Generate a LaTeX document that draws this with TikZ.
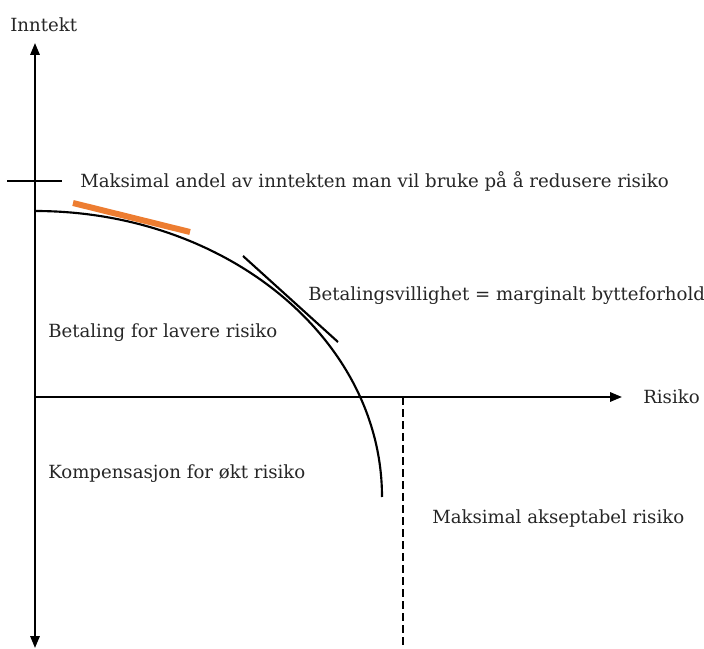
\documentclass[tikz,border=0pt]{standalone}
\usepackage{fontspec}
\setmainfont{DejaVu Serif}
\usetikzlibrary{arrows.meta}
\definecolor{orangeline}{HTML}{ED7D31}
\tikzset{
  lbl/.style={anchor=west, inner sep=0pt, font=\fontsize{13.6}{15}\selectfont, text=black!85},
  axis/.style={line width=1.6pt, -{Triangle[length=9pt,width=7pt]}},
  curve/.style={line width=1.6pt},
}
\begin{document}
\begin{tikzpicture}[x=0.75pt,y=-0.75pt]
\useasboundingbox (0,0) rectangle (704,649);
% axes
\coordinate (O) at (35,397);
\coordinate (ytop) at (35,43);
\coordinate (ybot) at (35,648);
\coordinate (xr) at (622,397);
\draw[axis] (O) -- (ytop);
\draw[axis] (O) -- (ybot);
\draw[axis] (O) -- (xr);
\node[lbl] (inntekt) at (10,25) {Inntekt};
\node[lbl] (risiko) at (643,397) {Risiko};
% tick
\coordinate (t1) at (7,181);
\coordinate (t2) at (62,181);
\draw[line width=1.6pt] (t1) -- (t2);
\node[lbl] (maks) at (80,181) {Maksimal andel av inntekten man vil bruke på å redusere risiko};
% curve
\coordinate (cs) at (35,211);
\draw[curve] (cs) arc[start angle=90, end angle=0, x radius=347, y radius=-286];
% orange
\coordinate (o1) at (73,203);
\coordinate (o2) at (190,232);
\draw[orangeline, line width=4.5pt] (o1) -- (o2);
% tangent
\coordinate (tg1) at (243,256);
\coordinate (tg2) at (338,342);
\draw[line width=1.6pt] (tg1) -- (tg2);
\node[lbl] (betv) at (308,296) {Betalingsvillighet = marginalt bytteforhold};
\node[lbl] (betl) at (48,333) {Betaling for lavere risiko};
\node[lbl] (komp) at (48,474) {Kompensasjon for økt risiko};
\node[lbl] (makr) at (432,518) {Maksimal akseptabel risiko};
% dashed
\coordinate (d1) at (403,397);
\coordinate (d2) at (403,649);
\draw[line width=1.6pt, dashed, dash pattern=on 6pt off 3pt] (d1) -- (d2);
\end{tikzpicture}
\end{document}
